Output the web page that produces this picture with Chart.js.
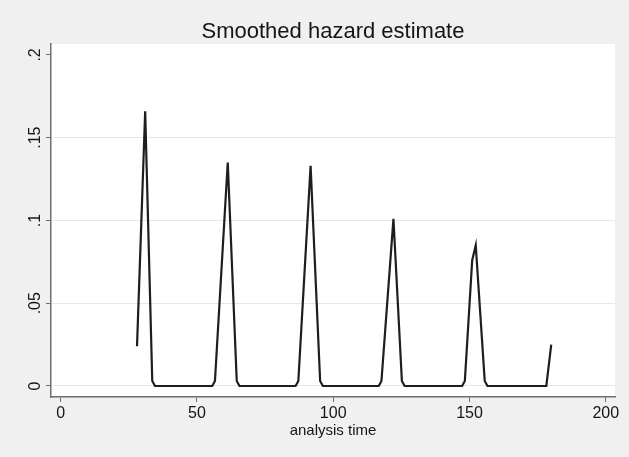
<!DOCTYPE html>
<html>
<head>
<meta charset="utf-8">
<script src="https://cdn.jsdelivr.net/npm/chart.js@4"></script>
<style>
  html, body { margin: 0; padding: 0; background: #f0f0f0; }
  #wrap { width: 629px; height: 457px; }
</style>
</head>
<body>
<div id="wrap"><canvas id="hazardChart" width="629" height="457"></canvas></div>
<script>
// analysis time and smoothed hazard
const times = [28, 31, 33.6, 34.6, 55.6, 56.6, 61.3, 64.6, 65.6, 86.2, 87.2, 91.7, 95.2, 96.2,
               116.7, 117.7, 122.1, 125.2, 126.2, 147.3, 148.3, 151.0, 152.3, 155.6, 156.6, 178.2, 180];
const hazard = [0.024, 0.166, 0.003, 0, 0, 0.003, 0.135, 0.003, 0, 0, 0.003, 0.133, 0.003, 0,
                0, 0.003, 0.101, 0.003, 0, 0, 0.003, 0.076, 0.085, 0.003, 0, 0, 0.025];

const xTicks = [0, 50, 100, 150, 200];
const yTicks = [0, 0.05, 0.1, 0.15, 0.2];
const yTickLabels = ['0', '.05', '.1', '.15', '.2'];

const chartTitle = 'Smoothed hazard estimate';
const xTitle = 'analysis time';

const FONT = '"Liberation Sans", Arial, sans-serif';

// background + white plot region, and the text Stata puts around it
const stataLook = {
    id: 'stataLook',
    beforeDraw(chart) {
        const { ctx, chartArea } = chart;
        ctx.save();
        ctx.fillStyle = '#f0f0f0';
        ctx.fillRect(0, 0, chart.width, chart.height);
        ctx.fillStyle = '#ffffff';
        ctx.fillRect(chartArea.left, chartArea.top,
            chartArea.right - chartArea.left, chartArea.bottom - chartArea.top);
        ctx.restore();
    },
    afterDraw(chart) {
        const { ctx, chartArea } = chart;
        const yScale = chart.scales.y;
        const mid = (chartArea.left + chartArea.right) / 2;
        ctx.save();
        ctx.fillStyle = '#151515';
        ctx.textAlign = 'center';
        ctx.textBaseline = 'middle';

        ctx.font = '22px ' + FONT;
        ctx.fillText(chartTitle, mid, 32);

        ctx.font = '15px ' + FONT;
        ctx.fillText(xTitle, mid, 431);

        // rotated y tick labels
        ctx.font = '16px ' + FONT;
        yTicks.forEach((v, i) => {
            const py = yScale.getPixelForValue(v);
            ctx.save();
            ctx.translate(36, py);
            ctx.rotate(-Math.PI / 2);
            ctx.fillText(yTickLabels[i], 0, 0);
            ctx.restore();
        });
        ctx.restore();
    }
};

const ctx = document.getElementById('hazardChart').getContext('2d');
new Chart(ctx, {
    type: 'line',
    data: {
        datasets: [{
            data: times.map((t, i) => ({ x: t, y: hazard[i] })),
            borderColor: '#1e1e1e',
            borderWidth: 2.2,
            pointRadius: 0,
            tension: 0,
            fill: false
        }]
    },
    options: {
        responsive: false,
        animation: false,
        devicePixelRatio: 1,
        layout: { padding: { top: 44, right: 14, left: 0, bottom: 0 } },
        plugins: {
            legend: { display: false },
            title: { display: false },
            tooltip: { enabled: false }
        },
        scales: {
            x: {
                type: 'linear',
                min: -3.56,
                max: 203.4,
                afterBuildTicks: (scale) => { scale.ticks = xTicks.map(v => ({ value: v })); },
                afterFit: (scale) => { scale.height = 60; },
                ticks: {
                    color: '#151515',
                    font: { family: FONT, size: 16 },
                    padding: 2,
                    maxRotation: 0,
                    callback: (v) => String(v)
                },
                grid: {
                    drawOnChartArea: false,
                    drawTicks: true,
                    tickLength: 5,
                    tickColor: '#6e6e6e',
                    lineWidth: 1
                },
                border: { display: true, color: '#6e6e6e', width: 1.5 }
            },
            y: {
                type: 'linear',
                min: -0.00665,
                max: 0.2066,
                afterBuildTicks: (scale) => { scale.ticks = yTicks.map(v => ({ value: v })); },
                afterFit: (scale) => { scale.width = 51; },
                ticks: { display: false },
                grid: {
                    color: (c) => (c.tick && c.tick.value === 0.2) ? 'rgba(0,0,0,0)' : '#e6e6e6',
                    drawTicks: true,
                    tickLength: 5,
                    tickColor: '#6e6e6e',
                    lineWidth: 1
                },
                border: { display: true, color: '#6e6e6e', width: 1.5 }
            }
        }
    },
    plugins: [stataLook]
});
</script>
</body>
</html>
